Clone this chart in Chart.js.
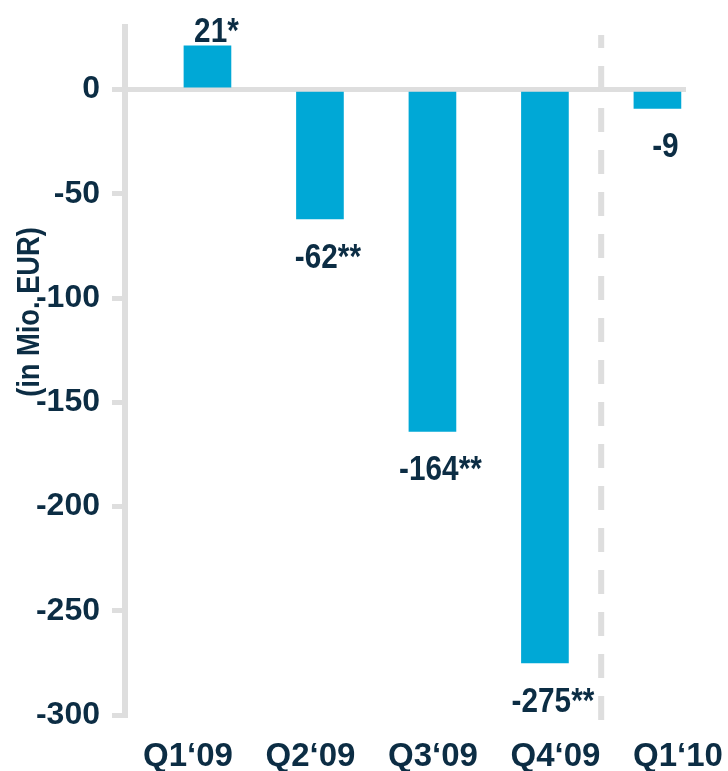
<!DOCTYPE html>
<html>
<head>
<meta charset="utf-8">
<script src="https://cdn.jsdelivr.net/npm/chart.js@4"></script>
<style>
html,body{margin:0;padding:0;background:#fff;}
#wrap{width:728px;height:771px;position:relative;}
</style>
</head>
<body>
<div id="wrap"><canvas id="c" width="728" height="771"></canvas></div>
<script>
const categories = ["Q1\u201809", "Q2\u201809", "Q3\u201809", "Q4\u201809", "Q1\u201810"];
const values = [21, -62, -164, -275, -9];
const valueLabels = ["21*", "-62**", "-164**", "-275**", "-9"];
const yTicks = [0, -50, -100, -150, -200, -250, -300];
const yTitle = "(in Mio. EUR)";

const FONT = "'Liberation Sans', Arial, sans-serif";
const TEXT = '#0c2d44';
const GRAY = '#dedede';
const BAR = '#00a8d6';

function condensedText(ctx, text, x, y, sx) {
  ctx.save();
  ctx.translate(x, y);
  ctx.scale(sx, 1);
  ctx.fillText(text, 0, 0);
  ctx.restore();
}

const extras = {
  id: 'extras',
  beforeDatasetsDraw(chart) {
    const ctx = chart.ctx, x = chart.scales.x, a = chart.chartArea;
    const px = x.getPixelForValue(3.5);
    ctx.save();
    ctx.strokeStyle = GRAY;
    ctx.lineWidth = 6;
    ctx.setLineDash([24, 18]);
    ctx.lineDashOffset = 11;
    ctx.beginPath();
    ctx.moveTo(px, a.top + 8);
    ctx.lineTo(px, a.bottom + 5);
    ctx.stroke();
    ctx.restore();
  },
  afterDatasetsDraw(chart) {
    const ctx = chart.ctx;
    const meta = chart.getDatasetMeta(0);
    ctx.save();
    ctx.fillStyle = TEXT;
    ctx.font = "bold 35px " + FONT;
    ctx.textAlign = 'center';
    ctx.textBaseline = 'alphabetic';
    meta.data.forEach((bar, i) => {
      const v = values[i];
      if (v >= 0) {
        condensedText(ctx, valueLabels[i], bar.x + 9, bar.y - 4, 0.85);
      } else {
        condensedText(ctx, valueLabels[i], bar.x + 8, bar.y + 49, 0.85);
      }
    });
    // y axis title
    ctx.translate(30, 312);
    ctx.rotate(-Math.PI / 2);
    ctx.font = "bold 31px " + FONT;
    ctx.textBaseline = 'middle';
    condensedText(ctx, yTitle, 0, 0, 0.88);
    ctx.restore();
  }
};

new Chart(document.getElementById('c'), {
  type: 'bar',
  data: {
    datasets: [{
      data: values.map((v, i) => ({ x: i, y: v })),
      backgroundColor: BAR,
      borderWidth: 0,
      barThickness: 47,
      xAxisID: 'x',
      yAxisID: 'y'
    }]
  },
  options: {
    responsive: false,
    animation: false,
    devicePixelRatio: 1,
    layout: { padding: { top: 27, right: 42, bottom: 0, left: 0 } },
    plugins: { legend: { display: false }, tooltip: { enabled: false } },
    scales: {
      x: {
        type: 'linear',
        display: false,
        offset: false,
        grid: { offset: false },
        min: -0.733,
        max: 4.254
      },
      xl: {
        type: 'linear',
        position: 'bottom',
        offset: false,
        min: -0.514,
        max: 4.066,
        grid: { display: false, offset: false },
        border: { display: false },
        afterBuildTicks: s => { s.ticks = categories.map((c, i) => ({ value: i })); },
        afterFit: s => { s.height = 56; s.paddingLeft = 0; s.paddingRight = 0; },
        ticks: {
          autoSkip: false,
          maxRotation: 0,
          padding: 14,
          color: TEXT,
          font: { family: FONT, size: 33, weight: 'bold' },
          callback: v => categories[v]
        }
      },
      y: {
        type: 'linear',
        min: -300,
        max: 30,
        afterBuildTicks: s => { s.ticks = yTicks.map(v => ({ value: v })); },
        afterFit: s => { s.width = 125; s.paddingTop = 0; s.paddingBottom = 0; },
        border: { display: true, color: GRAY, width: 6 },
        grid: {
          drawOnChartArea: true,
          color: c => (c.tick && c.tick.value === 0) ? GRAY : 'rgba(0,0,0,0)',
          lineWidth: 5,
          tickColor: GRAY,
          tickLength: 13,
          tickWidth: 5
        },
        ticks: {
          padding: 12,
          color: TEXT,
          font: { family: FONT, size: 32, weight: 'bold' },
          callback: v => String(v)
        }
      }
    }
  },
  plugins: [extras]
});
</script>
</body>
</html>
